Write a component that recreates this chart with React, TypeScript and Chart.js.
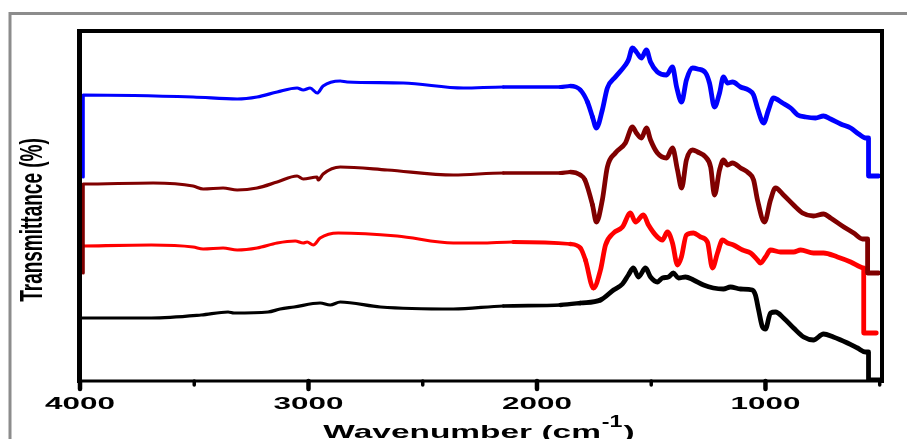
import React, { useEffect, useRef } from "react";
import { Chart, registerables } from "chart.js";

Chart.register(...registerables);

// ---- axis settings / tick labels ----
const X_MIN = 490;
const X_MAX = 4000;
const xTickValues = [4000, 3500, 3000, 2500, 2000, 1500, 1000, 500];
const xTickLabels = ["4000", "", "3000", "", "2000", "", "1000", ""];
const xTitle = "Wavenumber (cm";
const xTitleSup = "-1";
const xTitleEnd = ")";
const yTitle = "Transmittance (%)";

// ---- series (wavenumber cm-1, transmittance in arbitrary offset units) ----
const blueWn = [3986, 3986, 3505, 3312, 3225, 3137, 3050, 3023, 2993, 2962, 2936, 2861, 2831, 2585, 2322, 2147, 1897, 1854, 1810, 1779, 1757, 1740, 1714, 1692, 1657, 1613, 1600, 1582, 1565, 1543, 1521, 1503, 1473, 1433, 1407, 1389, 1367, 1346, 1319, 1297, 1262, 1245, 1223, 1201, 1184, 1166, 1144, 1109, 1074, 1052, 1035, 1008, 987, 965, 925, 890, 859, 824, 781, 746, 715, 671, 627, 592, 562, 549, 549, 505];
const blueT = [204, 286, 284, 282, 284, 289, 293, 291, 293, 288, 295, 300, 299, 298, 293, 294, 294, 295, 291, 279, 264, 253, 271, 293, 304, 316, 321, 333, 329, 323, 331, 319, 309, 306, 314, 294, 279, 301, 313, 312, 308, 298, 274, 288, 304, 298, 299, 294, 291, 286, 273, 258, 271, 283, 278, 273, 266, 264, 263, 265, 262, 257, 253, 247, 243, 243, 205, 205];

const maroonWn = [3986, 3986, 3680, 3505, 3461, 3374, 3312, 3225, 3137, 3050, 3023, 2962, 2958, 2936, 2861, 2655, 2366, 2147, 1897, 1854, 1810, 1790, 1757, 1740, 1714, 1692, 1657, 1613, 1582, 1565, 1543, 1521, 1503, 1473, 1433, 1407, 1385, 1367, 1346, 1319, 1297, 1262, 1240, 1223, 1201, 1184, 1166, 1144, 1109, 1074, 1052, 1035, 1004, 978, 956, 921, 877, 838, 790, 746, 715, 657, 614, 575, 553, 553, 505];
const maroonT = [108, 197, 198, 195, 192, 193, 191, 193, 199, 205, 202, 204, 201, 207, 214, 211, 206, 208, 208, 209, 206, 201, 176, 159, 181, 214, 228, 238, 254, 248, 243, 253, 241, 228, 223, 233, 211, 193, 221, 231, 229, 224, 214, 186, 211, 221, 216, 218, 213, 208, 201, 181, 159, 181, 193, 186, 176, 168, 165, 167, 163, 154, 148, 142, 142, 108, 108];

const redWn = [3986, 3688, 3505, 3461, 3374, 3312, 3225, 3137, 3058, 3023, 3006, 2979, 2949, 2870, 2612, 2366, 2248, 2104, 1854, 1810, 1788, 1753, 1722, 1700, 1665, 1626, 1591, 1569, 1534, 1512, 1473, 1451, 1429, 1407, 1385, 1368, 1346, 1315, 1284, 1254, 1232, 1210, 1188, 1166, 1140, 1100, 1065, 1035, 1022, 1000, 978, 934, 877, 846, 790, 746, 685, 627, 584, 570, 570, 515];
const redT = [135, 136, 134, 132, 133, 131, 133, 138, 140, 138, 139, 136, 143, 148, 145, 138, 138, 139, 137, 133, 121, 93, 111, 136, 148, 154, 168, 159, 166, 156, 144, 141, 149, 138, 116, 124, 146, 148, 144, 139, 113, 128, 141, 138, 136, 131, 128, 121, 118, 124, 131, 129, 129, 131, 128, 128, 124, 119, 114, 113, 48, 48];

const blackWn = [3990, 3688, 3470, 3352, 3326, 3177, 3124, 3063, 2949, 2905, 2861, 2685, 2366, 2147, 1897, 1810, 1722, 1665, 1626, 1600, 1578, 1556, 1525, 1503, 1473, 1451, 1425, 1403, 1381, 1350, 1315, 1271, 1228, 1184, 1153, 1109, 1057, 1044, 1030, 1013, 1000, 978, 956, 921, 877, 833, 790, 746, 703, 641, 597, 562, 549, 549, 496];
const blackT = [63, 63, 66, 69, 68, 69, 72, 74, 78, 76, 79, 74, 72, 75, 76, 78, 81, 91, 97, 106, 113, 104, 113, 104, 99, 103, 104, 108, 103, 104, 101, 96, 93, 92, 94, 92, 91, 86, 71, 54, 52, 68, 69, 63, 53, 44, 41, 47, 44, 38, 33, 29, 29, 1, 1];

const seriesNames = ["Sample A", "Sample B", "Sample C", "Sample D"];
const seriesColors = ["#0000ff", "#800000", "#ff0000", "#000000"];

const pairs = (xs: number[], ys: number[]) => xs.map((x, i) => ({ x, y: ys[i] }));

const framePlugin = {
  id: "frameAndLabels",
  afterDatasetsDraw(chart: any) {
    const { ctx, chartArea: a, scales } = chart;
    const xs = scales.x;
    ctx.save();
    // outer grey frame
    ctx.strokeStyle = "#8c8c8c";
    ctx.lineWidth = 3;
    ctx.beginPath();
    ctx.moveTo(10, 460);
    ctx.lineTo(10, 13.5);
    ctx.lineTo(930, 13.5);
    ctx.stroke();

    const seg = (x1: number, y1: number, x2: number, y2: number, w: number, cap: CanvasLineCap = "butt") => {
      ctx.lineWidth = w;
      ctx.lineCap = cap;
      ctx.strokeStyle = "#000";
      ctx.beginPath();
      ctx.moveTo(x1, y1);
      ctx.lineTo(x2, y2);
      ctx.stroke();
    };
    // box
    seg(a.left - 2, a.top, a.right + 2, a.top, 4);
    seg(a.right, a.top - 2, a.right, a.bottom + 2, 4);
    seg(a.left, a.bottom, a.right, a.bottom, 3);
    seg(a.left - 0.5, a.top - 2, a.left - 0.5, a.bottom + 2, 5);

    // ticks + labels
    xs.ticks.forEach((t: any) => {
      const px = xs.getPixelForValue(t.value);
      const lbl = xTickLabels[xTickValues.indexOf(t.value)] || "";
      if (lbl) {
        seg(px, a.bottom, px, a.bottom + 8, 4.5, "round");
        ctx.save();
        ctx.translate(px, a.bottom + 28);
        ctx.scale(1.85, 1);
        ctx.font = 'bold 17px "Liberation Sans", Arial, sans-serif';
        ctx.fillStyle = "#000";
        ctx.textAlign = "center";
        ctx.textBaseline = "alphabetic";
        ctx.fillText(lbl, 0, 0);
        ctx.restore();
      } else {
        seg(px, a.bottom, px, a.bottom + 4, 3.5, "round");
      }
    });

    // x title
    const k1 = 1.76;
    const k2 = 1.45;
    const f1 = 'bold 19px "Liberation Sans", Arial, sans-serif';
    const f2 = 'bold 16px "Liberation Sans", Arial, sans-serif';
    ctx.font = f1;
    const w1 = ctx.measureText(xTitle).width * k1;
    const w3 = ctx.measureText(xTitleEnd).width * k1;
    ctx.font = f2;
    const w2 = ctx.measureText(xTitleSup).width * k2;
    const total = w1 + w2 + w3 + 2;
    let sx = (a.left + a.right) / 2 - total / 2 - 2;
    const by = 438;
    ctx.fillStyle = "#000";
    ctx.textAlign = "left";
    ctx.textBaseline = "alphabetic";
    ctx.save();
    ctx.translate(sx, by);
    ctx.scale(k1, 1);
    ctx.font = f1;
    ctx.fillText(xTitle, 0, 0);
    ctx.restore();
    sx += w1 + 1;
    ctx.save();
    ctx.translate(sx, by - 11);
    ctx.scale(k2, 1);
    ctx.font = f2;
    ctx.fillText(xTitleSup, 0, 0);
    ctx.restore();
    sx += w2 + 1;
    ctx.save();
    ctx.translate(sx, by);
    ctx.scale(k1, 1);
    ctx.font = f1;
    ctx.fillText(xTitleEnd, 0, 0);
    ctx.restore();

    // y title
    ctx.save();
    ctx.translate(42, 220);
    ctx.rotate(-Math.PI / 2);
    ctx.scale(1, 1.62);
    ctx.font = 'bold 19px "Liberation Sans", Arial, sans-serif';
    ctx.textAlign = "center";
    ctx.textBaseline = "alphabetic";
    ctx.fillStyle = "#000";
    ctx.fillText(yTitle, 0, 0);
    ctx.restore();

    ctx.restore();
  },
};

const widthAt = (wn: number) => {
  if (wn >= 2100) return 3.2;
  if (wn <= 1750) return 4.8;
  return 3.2 + ((2100 - wn) / 350) * 1.6;
};

export default function App() {
  const ref = useRef<HTMLCanvasElement | null>(null);
  useEffect(() => {
    if (!ref.current) return;
    const series = [
      pairs(blueWn, blueT),
      pairs(maroonWn, maroonT),
      pairs(redWn, redT),
      pairs(blackWn, blackT),
    ];
    const chart = new Chart(ref.current, {
      type: "line",
      data: {
        datasets: series.map((d, i) => ({
          label: seriesNames[i],
          data: d,
          borderColor: seriesColors[i],
          backgroundColor: seriesColors[i],
          borderWidth: 3.2,
          pointRadius: 0,
          cubicInterpolationMode: "monotone" as const,
          fill: false,
          borderJoinStyle: "round" as const,
          borderCapStyle: "round" as const,
          segment: {
            borderWidth: (c: any) => widthAt((c.p0.parsed.x + c.p1.parsed.x) / 2),
          },
        })),
      },
      options: {
        animation: false,
        responsive: false,
        maintainAspectRatio: false,
        devicePixelRatio: 1,
        layout: { padding: { left: 80, top: 31, right: 25, bottom: 58 } },
        scales: {
          x: {
            type: "linear",
            display: false,
            reverse: true,
            min: X_MIN,
            max: X_MAX,
            afterBuildTicks: (s: any) => {
              s.ticks = xTickValues.map((v) => ({ value: v }));
            },
          },
          y: {
            type: "linear",
            display: false,
            min: 0,
            max: 350,
          },
        },
        plugins: {
          legend: { display: false },
          tooltip: { enabled: false },
        },
      },
      plugins: [framePlugin],
    });
    return () => chart.destroy();
  }, []);
  return (
    <div style={{ position: "absolute", left: 0, top: 0, width: 907, height: 439, overflow: "hidden", background: "#fff" }}>
      <canvas ref={ref} width={907} height={439} style={{ display: "block", width: 907, height: 439 }} />
    </div>
  );
}
